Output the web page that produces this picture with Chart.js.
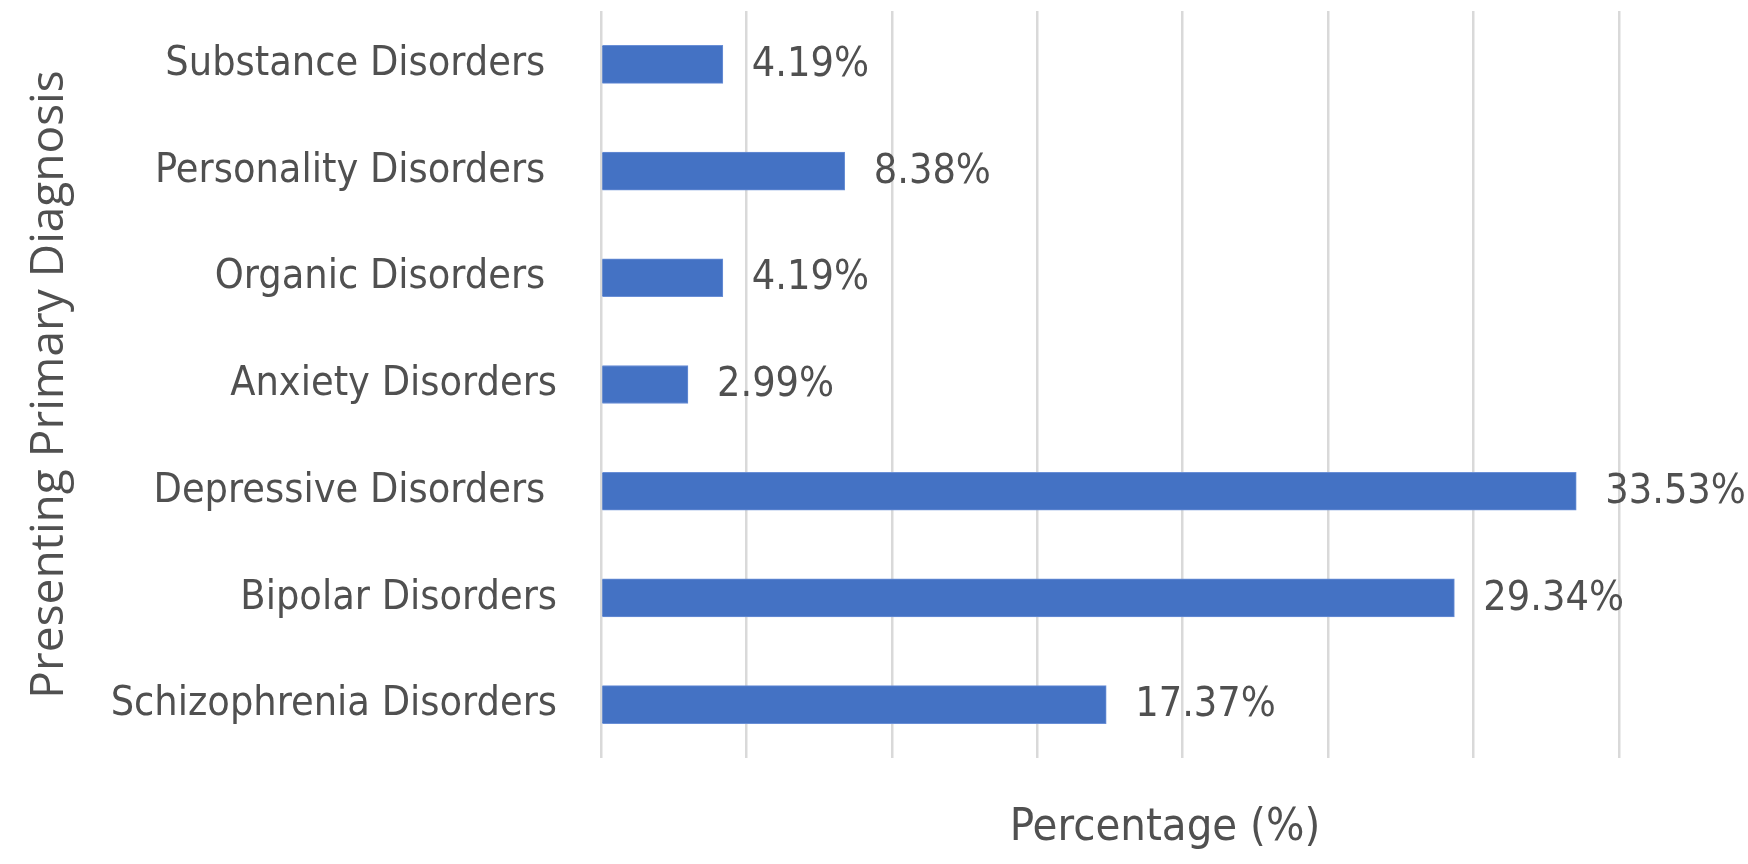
<!DOCTYPE html>
<html>
<head>
<meta charset="utf-8">
<script src="https://cdn.jsdelivr.net/npm/chart.js@4"></script>
<style>
  html, body { margin: 0; padding: 0; background: #ffffff; }
  #wrap { width: 1748px; height: 864px; }
</style>
</head>
<body>
<div id="wrap"><canvas id="c" width="1748" height="864"></canvas></div>
<script>
const categories = [
  "Substance Disorders ",
  "Personality Disorders ",
  "Organic Disorders ",
  "Anxiety Disorders",
  "Depressive Disorders ",
  "Bipolar Disorders",
  "Schizophrenia Disorders"
];
const percentages = [4.19, 8.38, 4.19, 2.99, 33.53, 29.34, 17.37];
const valueLabels = ["4.19%", "8.38%", "4.19%", "2.99%", "33.53%", "29.34%", "17.37%"];
const xAxisTitle = "Percentage (%)";
const yAxisTitle = "Presenting Primary Diagnosis";

const LABEL_FONT = '"DejaVu Sans Condensed", "DejaVu Sans", sans-serif';
const TEXT_COLOR = '#505050';

const extrasPlugin = {
  id: 'extras',
  afterDatasetsDraw(chart) {
    const ctx = chart.ctx;
    const meta = chart.getDatasetMeta(0);
    ctx.save();
    ctx.fillStyle = TEXT_COLOR;
    ctx.font = '41px ' + LABEL_FONT;
    ctx.textAlign = 'left';
    ctx.textBaseline = 'middle';
    meta.data.forEach((bar, i) => {
      ctx.fillText(valueLabels[i], bar.x + 29, bar.y + 1);
    });
    ctx.restore();
  },
  afterDraw(chart) {
    const ctx = chart.ctx;
    const area = chart.chartArea;
    ctx.save();
    ctx.fillStyle = TEXT_COLOR;
    // x axis title
    ctx.font = '45px ' + LABEL_FONT;
    ctx.textAlign = 'center';
    ctx.textBaseline = 'middle';
    ctx.fillText(xAxisTitle, area.left + (area.right - area.left) * 0.554, 828);
    // y axis title
    ctx.font = '46px "Open Sans", sans-serif';
    ctx.translate(50, (area.top + area.bottom) / 2);
    ctx.rotate(-Math.PI / 2);
    ctx.fillText(yAxisTitle, 0, 0);
    ctx.restore();
  }
};

new Chart(document.getElementById('c'), {
  type: 'bar',
  data: {
    labels: categories,
    datasets: [{
      data: percentages,
      backgroundColor: '#4472C4',
      borderColor: '#6a8fd6',
      borderWidth: 1,
      barThickness: 38
    }]
  },
  options: {
    indexAxis: 'y',
    responsive: false,
    animation: false,
    events: [],
    layout: { padding: { top: 11, right: 129, left: 0, bottom: 0 } },
    plugins: {
      legend: { display: false },
      tooltip: { enabled: false },
      title: { display: false }
    },
    scales: {
      x: {
        min: 0,
        max: 35,
        ticks: { display: false, stepSize: 5 },
        grid: { color: '#d9d9d9', lineWidth: 2.5, drawTicks: false },
        border: { display: false },
        afterFit(scale) {
          scale.height = 106;
          scale.paddingLeft = 0; scale.paddingRight = 0;
          scale.paddingTop = 0; scale.paddingBottom = 0;
        }
      },
      y: {
        grid: { display: false, drawTicks: false },
        border: { display: false },
        ticks: {
          color: TEXT_COLOR,
          padding: 44,
          font: { family: LABEL_FONT, size: 41 }
        },
        afterFit(scale) {
          scale.width = 601;
          scale.paddingTop = 0; scale.paddingBottom = 0;
          scale.paddingLeft = 0; scale.paddingRight = 0;
        }
      }
    }
  },
  plugins: [extrasPlugin]
});
</script>
</body>
</html>
